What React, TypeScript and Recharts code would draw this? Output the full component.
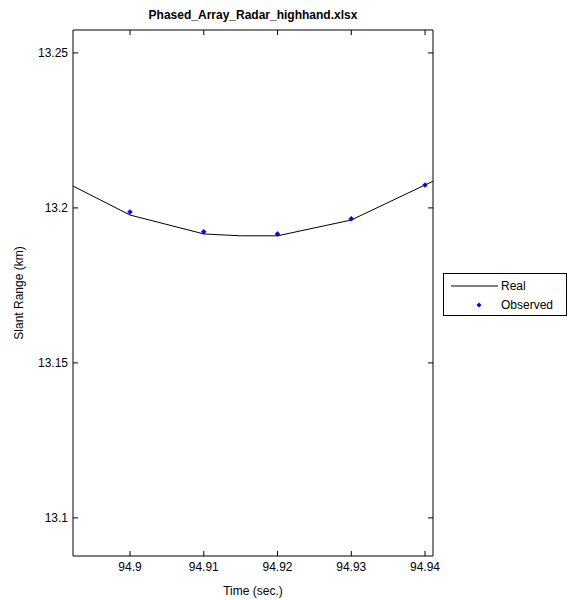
import {
  ComposedChart,
  Line,
  Scatter,
  XAxis,
  YAxis,
} from 'recharts';

// Simulated slant range (the "Real" trace), including points just past the plot edges
const realTime = [94.89, 94.9, 94.91, 94.915, 94.92, 94.93, 94.94, 94.945];
const realRange = [13.2098, 13.1977, 13.1916, 13.191, 13.191, 13.1961, 13.2074, 13.213];

// Radar measurements
const observedTime = [94.9, 94.91, 94.92, 94.93, 94.94];
const observedRange = [13.1987, 13.1923, 13.1916, 13.1965, 13.2074];

const xTicks = [94.9, 94.91, 94.92, 94.93, 94.94];
const yTicks = [13.1, 13.15, 13.2, 13.25];

const realData = realTime.map((t, i) => ({ t, range: realRange[i] }));
const observedData = observedTime.map((t, i) => ({ t, range: observedRange[i] }));

const X_DOMAIN: [number, number] = [94.89227, 94.94108];
const Y_DOMAIN: [number, number] = [13.0877, 13.2574];

const FONT = 'Liberation Sans, Arial, sans-serif';
const tickStyle = { fill: '#000', fontSize: 12, fontFamily: FONT };
const hiddenTick = { fill: 'none', fontSize: 1 };

const fmt = (v: number) => String(parseFloat(v.toFixed(2)));

const Diamond = (props: any) => {
  const { cx, cy } = props;
  if (cx == null || cy == null) return null;
  return (
    <polygon
      points={`${cx},${cy - 2.5} ${cx + 2.5},${cy} ${cx},${cy + 2.5} ${cx - 2.5},${cy}`}
      fill="#0000ff"
      stroke="#0000ff"
      strokeWidth={0.5}
    />
  );
};

const LegendBox = () => (
  <div
    style={{
      position: 'absolute',
      left: 443,
      top: 273,
      width: 122,
      height: 41,
      border: '1px solid #000',
      background: '#fff',
    }}
  >
    <svg width={122} height={41} style={{ display: 'block' }}>
      <line x1={7} y1={12} x2={54} y2={12} stroke="#000" strokeWidth={1} />
      <polygon points="35,28.5 37.5,31 35,33.5 32.5,31" fill="#0000ff" />
      <text x={57} y={16} fontSize={12} fontFamily={FONT} fill="#000">
        Real
      </text>
      <text x={57} y={35} fontSize={12} fontFamily={FONT} fill="#000">
        Observed
      </text>
    </svg>
  </div>
);

export default function App() {
  return (
    <div style={{ position: 'absolute', left: 0, top: 0, width: 577, height: 600, background: '#fff' }}>
      <ComposedChart
        width={577}
        height={600}
        margin={{ top: 29, right: 143, bottom: 0, left: 0 }}
        style={{ fontFamily: FONT }}
      >
        <XAxis
          xAxisId="bottom"
          type="number"
          dataKey="t"
          domain={X_DOMAIN}
          allowDataOverflow
          ticks={xTicks}
          tickFormatter={fmt}
          tickSize={-5}
          tickMargin={11}
          height={44}
          stroke="#000"
          tick={tickStyle}
          label={{ value: 'Time (sec.)', position: 'insideBottom', offset: 5, fill: '#000', fontSize: 12, fontFamily: FONT }}
        />
        <XAxis
          xAxisId="top"
          orientation="top"
          type="number"
          dataKey="t"
          domain={X_DOMAIN}
          allowDataOverflow
          ticks={xTicks}
          tickFormatter={() => ''}
          tickSize={-5}
          tick={hiddenTick}
          height={1}
          stroke="#000"
        />
        <YAxis
          yAxisId="left"
          type="number"
          domain={Y_DOMAIN}
          allowDataOverflow
          ticks={yTicks}
          tickFormatter={fmt}
          tickSize={-5}
          tickMargin={10}
          width={73}
          stroke="#000"
          tick={tickStyle}
          label={{ value: 'Slant Range (km)', angle: -90, position: 'insideLeft', offset: 19, fill: '#000', fontSize: 12, fontFamily: FONT, style: { textAnchor: 'middle' } }}
        />
        <YAxis
          yAxisId="right"
          orientation="right"
          type="number"
          domain={Y_DOMAIN}
          allowDataOverflow
          ticks={yTicks}
          tickFormatter={() => ''}
          tickSize={-5}
          tick={hiddenTick}
          width={1}
          stroke="#000"
        />
        <Line
          xAxisId="bottom"
          yAxisId="left"
          data={realData}
          dataKey="range"
          stroke="#000"
          strokeWidth={1}
          dot={false}
          activeDot={false}
          isAnimationActive={false}
        />
        <Scatter
          xAxisId="bottom"
          yAxisId="left"
          data={observedData}
          dataKey="range"
          shape={<Diamond />}
          isAnimationActive={false}
        />
        <text x={253} y={19} textAnchor="middle" fontSize={12} fontWeight="bold" fontFamily={FONT} fill="#000">
          Phased_Array_Radar_highhand.xlsx
        </text>
      </ComposedChart>
      <LegendBox />
    </div>
  );
}
